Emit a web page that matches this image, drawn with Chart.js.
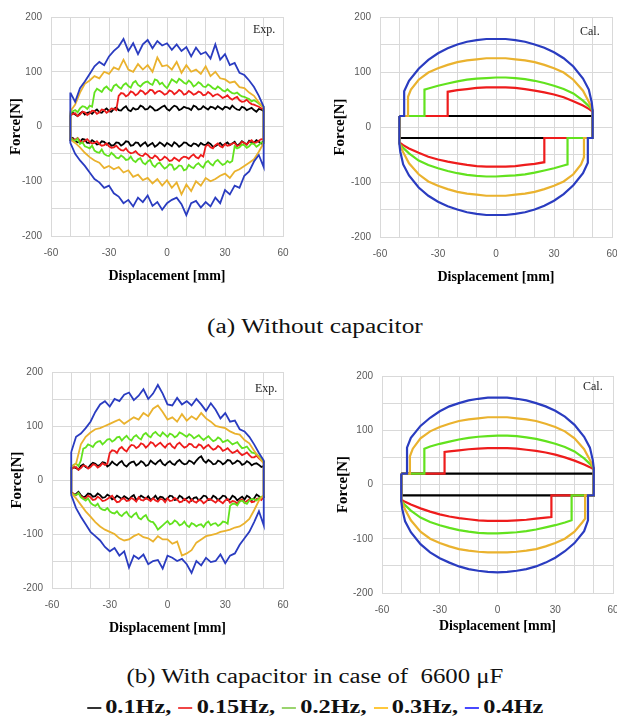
<!DOCTYPE html>
<html>
<head>
<meta charset="utf-8">
<script src="https://cdn.jsdelivr.net/npm/chart.js@4.4.1/dist/chart.umd.min.js"></script>
<style>
  body { margin: 0; width: 617px; height: 718px; overflow: hidden; background: #fff; position: relative; }
  .box { position: absolute; }
  .tag { position: absolute; font-family: "Liberation Serif", serif; font-size: 12px; line-height: 12px; color: #222; }
  .cap { position: absolute; left: 0; width: 630px; text-align: center; font-family: "Liberation Serif", serif; color: #111; white-space: nowrap; }
  .cap span.in { display: inline-block; }
  .mk { display: inline-block; width: 11px; height: 2px; vertical-align: middle; margin: 0 3px 0 1px; position: relative; top: -1px; }
</style>
</head>
<body>
<div class="box" style="left:0;top:0"><canvas id="expA" width="300" height="290"></canvas></div>
<div class="box" style="left:300px;top:0"><canvas id="calA" width="317" height="290"></canvas></div>
<div class="box" style="left:0;top:355px"><canvas id="expB" width="300" height="290"></canvas></div>
<div class="box" style="left:300px;top:355px"><canvas id="calB" width="317" height="290"></canvas></div>

<div class="tag" style="left:253px;top:23px">Exp.</div>
<div class="tag" style="left:580px;top:25px">Cal.</div>
<div class="tag" style="left:255px;top:382px">Exp.</div>
<div class="tag" style="left:583px;top:380px">Cal.</div>

<div class="cap" style="top:316px;font-size:20px;line-height:20px"><span class="in" style="transform:scaleX(1.27)">(a) Without capacitor</span></div>
<div class="cap" style="top:666px;font-size:20px;line-height:20px"><span class="in" style="transform:scaleX(1.24)">(b) With capacitor in case of &nbsp;6600 μF</span></div>
<div class="cap" style="top:697px;font-size:19px;line-height:19px;font-weight:bold"><span class="in" style="transform:scaleX(1.28)"><span class="mk" style="background:#333"></span>0.1Hz, <span class="mk" style="background:#f04646"></span>0.15Hz, <span class="mk" style="background:#9ad46e"></span>0.2Hz, <span class="mk" style="background:#ffc83c"></span>0.3Hz, <span class="mk" style="background:#4848ff"></span>0.4Hz</span></div>

<script>
// displacement grid for the measured loops [mm]
const dispGrid = [-50, -47.5, -45, -42.5, -40, -37.5, -35, -32.5, -30, -27.5, -25, -22.5, -20, -17.5, -15, -12.5, -10, -7.5, -5, -2.5, 0,
  2.5, 5, 7.5, 10, 12.5, 15, 17.5, 20, 22.5, 25, 27.5, 30, 32.5, 35, 37.5, 40, 42.5, 45, 47.5, 50];
// in-between positions used by the finer-sampled (low force) loops
const dispMid = [-48.75, -46.25, -43.75, -41.25, -38.75, -36.25, -33.75, -31.25, -28.75, -26.25, -23.75, -21.25, -18.75, -16.25,
  -13.75, -11.25, -8.75, -6.25, -3.75, -1.25, 1.25, 3.75, 6.25, 8.75, 11.25, 13.75, 16.25, 18.75, 21.25, 23.75, 26.25, 28.75,
  31.25, 33.75, 36.25, 38.75, 41.25, 43.75, 46.25, 48.75];

const freqLabels = ['0.4Hz', '0.3Hz', '0.2Hz', '0.15Hz', '0.1Hz'];
const colors = ['#2a3cc0', '#eab22e', '#62e21e', '#ee1c1c', '#000000'];

// (a) without capacitor - measured force [N], upper branch (going right) and lower branch (going left)
const expA_04_up = [62, 45, 70, 82, 96, 110, 118, 112, 128, 138, 146, 160, 138, 152, 132, 150, 158, 143, 156, 148, 152, 140, 150, 138, 145, 128, 144, 132, 136, 124, 150, 122, 132, 112, 116, 98, 94, 84, 72, 56, 36];
const expA_04_dn = [-30, -50, -62, -72, -84, -96, -102, -112, -108, -122, -128, -140, -134, -146, -130, -138, -126, -145, -138, -152, -140, -134, -130, -142, -162, -140, -136, -148, -138, -146, -130, -140, -116, -124, -108, -112, -90, -82, -64, -52, -74];
const expA_03_up = [28, 40, 62, 78, 84, 92, 88, 100, 96, 108, 104, 122, 104, 100, 114, 104, 112, 100, 126, 110, 112, 104, 118, 98, 112, 100, 104, 96, 110, 92, 100, 88, 86, 80, 82, 72, 70, 62, 56, 44, 34];
const expA_03_dn = [-24, -30, -38, -48, -56, -62, -66, -76, -72, -78, -74, -84, -80, -92, -88, -98, -94, -104, -96, -108, -98, -112, -102, -124, -106, -118, -100, -108, -94, -100, -96, -90, -86, -94, -82, -78, -72, -66, -60, -46, -30];
const expA_02_up = [24, 30, 33, 36, 38, 62, 66, 70, 68, 74, 72, 76, 74, 80, 76, 78, 82, 76, 84, 80, 70, 86, 80, 84, 78, 80, 76, 78, 72, 74, 68, 70, 64, 64, 60, 58, 54, 50, 48, 42, 36];
const expA_02_upMid = [28, 26, 37, 32, 36, 69, 63, 73, 65, 77, 69, 79, 71, 83, 73, 81, 78, 86, 77, 74, 78, 83, 87, 80, 84, 73, 81, 73, 77, 70, 73, 66, 68, 61, 62, 55, 52, 46, 45, 38];
const expA_02_dn = [-20, -26, -32, -36, -40, -44, -48, -50, -54, -52, -58, -56, -60, -62, -60, -66, -64, -70, -68, -72, -74, -70, -76, -72, -78, -74, -70, -72, -66, -68, -64, -66, -68, -66, -36, -38, -34, -36, -32, -34, -30];
const expA_02_dnMid = [-25, -22, -29, -38, -35, -47, -42, -53, -48, -57, -53, -61, -55, -65, -58, -69, -61, -74, -66, -77, -69, -79, -71, -80, -70, -76, -67, -75, -63, -71, -61, -70, -63, -63, -40, -33, -39, -31, -37, -29];
const expA_015_up = [20, 24, 22, 26, 24, 28, 26, 30, 28, 32, 56, 60, 58, 62, 60, 64, 62, 66, 64, 62, 60, 64, 62, 64, 60, 62, 60, 62, 58, 60, 58, 56, 54, 52, 52, 48, 46, 44, 40, 36, 32];
const expA_015_upMid = [23, 19, 27, 21, 29, 23, 31, 25, 33, 30, 61, 55, 64, 57, 66, 59, 67, 60, 65, 58, 66, 59, 67, 58, 65, 58, 64, 57, 63, 55, 59, 52, 57, 49, 54, 45, 49, 41, 38, 33];
const expA_015_dn = [-20, -24, -26, -26, -28, -30, -32, -34, -36, -38, -40, -44, -46, -48, -50, -54, -52, -58, -56, -60, -58, -62, -60, -58, -56, -54, -56, -52, -36, -38, -34, -36, -32, -34, -30, -34, -30, -28, -30, -26, -24];
const expA_015_dnMid = [-23, -21, -29, -23, -31, -27, -35, -31, -39, -35, -43, -40, -49, -45, -53, -49, -57, -53, -62, -55, -63, -57, -63, -55, -59, -51, -58, -55, -33, -40, -31, -38, -35, -31, -36, -28, -33, -25, -29, -23];
const expA_01_up = [20, 22, 24, 22, 26, 28, 26, 30, 28, 32, 30, 34, 30, 34, 32, 36, 32, 34, 30, 36, 32, 34, 36, 32, 34, 30, 36, 32, 34, 36, 32, 34, 36, 32, 34, 30, 34, 32, 30, 32, 28];
const expA_01_upMid = [25, 19, 27, 25, 23, 31, 25, 33, 27, 35, 29, 37, 28, 31, 38, 31, 37, 29, 33, 38, 29, 38, 30, 36, 33, 38, 31, 37, 31, 35, 37, 31, 35, 38, 31, 36, 30, 34, 27, 31];
const expA_01_dn = [-24, -26, -28, -24, -30, -28, -32, -28, -30, -34, -30, -32, -28, -34, -30, -32, -36, -30, -34, -32, -30, -36, -32, -34, -30, -36, -32, -30, -34, -32, -36, -30, -32, -34, -28, -32, -30, -26, -30, -28, -26];
const expA_01_dnMid = [-21, -29, -23, -30, -25, -33, -27, -33, -35, -29, -35, -27, -35, -29, -36, -29, -33, -37, -29, -36, -33, -29, -37, -29, -34, -31, -36, -33, -29, -37, -33, -35, -29, -31, -35, -27, -33, -29, -25, -31];

// (b) with 6600 uF capacitor - measured force [N]
const expB_04_up = [52, 80, 86, 96, 108, 126, 140, 146, 136, 150, 146, 158, 162, 148, 156, 168, 150, 160, 176, 160, 140, 138, 152, 140, 146, 138, 150, 140, 128, 142, 130, 114, 124, 108, 110, 94, 90, 80, 66, 50, 36];
const expB_04_dn = [-28, -52, -68, -82, -96, -104, -112, -124, -132, -126, -140, -132, -162, -140, -146, -138, -156, -150, -148, -164, -140, -144, -150, -146, -156, -172, -150, -158, -144, -152, -150, -138, -154, -140, -136, -120, -108, -96, -78, -58, -84];
const expB_03_up = [24, 30, 66, 80, 88, 94, 96, 100, 104, 108, 112, 104, 110, 116, 112, 124, 118, 132, 138, 126, 112, 116, 108, 122, 110, 118, 112, 124, 114, 108, 100, 98, 96, 90, 86, 84, 74, 68, 54, 42, 30];
const expB_03_dn = [-24, -34, -46, -58, -68, -78, -86, -92, -96, -100, -108, -112, -110, -104, -100, -106, -108, -114, -104, -110, -110, -118, -114, -140, -136, -130, -116, -110, -104, -102, -100, -96, -94, -92, -88, -86, -80, -72, -56, -38, -28];
const expB_02_up = [24, 30, 36, 60, 64, 68, 72, 70, 76, 74, 80, 78, 76, 80, 78, 84, 82, 86, 84, 88, 80, 84, 82, 86, 80, 82, 80, 78, 78, 76, 74, 76, 72, 70, 68, 64, 60, 56, 50, 44, 34];
const expB_02_upMid = [28, 26, 58, 66, 61, 71, 66, 75, 71, 79, 73, 82, 73, 83, 75, 87, 79, 89, 81, 84, 86, 79, 88, 83, 85, 77, 83, 74, 81, 72, 79, 70, 74, 66, 70, 59, 62, 51, 47, 38];
const expB_02_dn = [-24, -28, -32, -38, -42, -48, -52, -56, -58, -62, -64, -62, -66, -64, -70, -68, -74, -78, -92, -84, -76, -80, -78, -82, -84, -80, -86, -82, -80, -84, -80, -82, -78, -48, -44, -40, -42, -38, -36, -34, -30];
const expB_02_dnMid = [-27, -24, -35, -34, -46, -44, -55, -52, -61, -58, -67, -59, -69, -61, -73, -65, -77, -84, -88, -80, -82, -75, -84, -77, -87, -82, -83, -87, -77, -81, -85, -77, -81, -44, -47, -38, -44, -35, -38, -31];
const expB_015_up = [20, 24, 22, 26, 24, 28, 26, 28, 50, 54, 58, 56, 60, 64, 62, 66, 64, 68, 66, 64, 66, 62, 66, 64, 62, 66, 60, 64, 62, 60, 58, 60, 56, 54, 52, 50, 48, 46, 42, 40, 34];
const expB_015_upMid = [23, 19, 27, 21, 29, 23, 31, 30, 55, 50, 61, 53, 65, 59, 68, 60, 70, 62, 69, 60, 68, 59, 69, 60, 67, 61, 66, 58, 65, 56, 63, 54, 59, 50, 55, 46, 51, 42, 45, 36];
const expB_015_dn = [-22, -28, -30, -34, -32, -36, -34, -38, -32, -36, -40, -34, -38, -36, -32, -38, -36, -34, -40, -36, -34, -38, -36, -40, -38, -36, -42, -38, -40, -36, -42, -40, -38, -42, -40, -38, -42, -36, -40, -34, -30];
const expB_015_dnMid = [-26, -24, -33, -29, -37, -31, -39, -35, -29, -41, -35, -39, -33, -40, -37, -33, -39, -38, -35, -41, -39, -33, -41, -35, -42, -40, -37, -43, -35, -39, -37, -43, -35, -39, -44, -36, -39, -41, -35, -37];
const expB_01_up = [20, 22, 26, 24, 28, 30, 28, 32, 28, 30, 32, 28, 30, 34, 30, 32, 28, 32, 34, 30, 32, 30, 34, 32, 30, 34, 36, 44, 32, 34, 30, 34, 32, 36, 32, 34, 30, 32, 30, 28, 26];
const expB_01_upMid = [24, 19, 29, 22, 32, 26, 33, 25, 34, 27, 35, 25, 33, 27, 35, 26, 36, 29, 37, 27, 35, 28, 37, 29, 36, 30, 41, 36, 37, 29, 36, 29, 37, 30, 36, 28, 35, 27, 31, 24];
const expB_01_dn = [-22, -26, -28, -30, -26, -30, -28, -32, -30, -34, -32, -30, -36, -28, -34, -32, -30, -34, -36, -32, -34, -30, -36, -32, -34, -38, -32, -34, -30, -36, -32, -34, -30, -36, -32, -34, -36, -32, -34, -30, -32];
const expB_01_dnMid = [-27, -22, -32, -25, -31, -25, -33, -27, -36, -29, -35, -33, -31, -37, -29, -35, -37, -29, -31, -37, -29, -37, -29, -37, -31, -33, -38, -29, -37, -29, -37, -29, -37, -29, -38, -31, -29, -37, -27, -35];

// calculated loops (a): displacement [mm] and force [N] along the loop
const calA_04_x = [-50, -47.5, -47.5, -45, -40, -35, -30, -25, -20, -15, -10, -5, 0, 5, 10, 15, 20, 25, 30, 35, 40, 45, 48, 49.5, 50, 50, 47.5, 47.5, 45, 40, 35, 30, 25, 20, 15, 10, 5, 0, -5, -10, -15, -20, -25, -30, -35, -40, -45, -48, -49.5, -50, -50];
const calA_04_y = [20, 20, 65, 84, 106, 122, 134, 143, 150, 155, 158, 160, 160, 160, 158, 155, 150, 144, 136, 125, 110, 88, 68, 45, 30, -20, -20, -65, -84, -106, -122, -134, -143, -150, -155, -158, -160, -160, -160, -158, -155, -150, -144, -136, -125, -110, -88, -68, -45, -30, 20];
const calA_03_x = [-50, -45.5, -45.5, -44, -40, -35, -30, -25, -20, -15, -10, -5, 0, 5, 10, 15, 20, 25, 30, 35, 40, 45, 48, 50, 50, 45.5, 45.5, 44, 40, 35, 30, 25, 20, 15, 10, 5, 0, -5, -10, -15, -20, -25, -30, -35, -40, -45, -48, -50, -50];
const calA_03_y = [20, 20, 55, 68, 86, 99, 107, 113, 118, 121, 123, 125, 125, 125, 123, 121, 118, 113, 107, 99, 86, 66, 46, 30, -20, -20, -55, -68, -86, -99, -107, -113, -118, -121, -123, -125, -125, -125, -123, -121, -118, -113, -107, -99, -86, -66, -46, -30, 20];
const calA_02_x = [-50, -37, -37, -35, -30, -25, -20, -15, -10, -5, 0, 5, 10, 15, 20, 25, 30, 35, 40, 45, 48, 50, 50, 37, 37, 35, 30, 25, 20, 15, 10, 5, 0, -5, -10, -15, -20, -25, -30, -35, -40, -45, -48, -50, -50];
const calA_02_y = [20, 20, 68, 70, 75, 79, 83, 86, 88, 89, 90, 90, 89, 87, 84, 80, 75, 69, 61, 48, 38, 30, -20, -20, -68, -70, -75, -79, -83, -86, -88, -89, -90, -90, -89, -87, -84, -80, -75, -69, -61, -48, -38, -30, 20];
const calA_015_x = [-50, -25, -25, -20, -15, -10, -5, 0, 5, 10, 15, 20, 25, 30, 35, 40, 45, 48, 50, 50, 25, 25, 20, 15, 10, 5, 0, -5, -10, -15, -20, -25, -30, -35, -40, -45, -48, -50, -50];
const calA_015_y = [20, 20, 64, 67, 69, 71, 72, 72, 72, 71, 69, 66, 63, 59, 54, 47, 39, 33, 28, -20, -20, -64, -67, -69, -71, -72, -72, -72, -71, -69, -66, -63, -59, -54, -47, -39, -33, -28, 20];
const calA_01_x = [-50, 50, 50, -50, -50];
const calA_01_y = [20, 20, -20, -20, 20];

// calculated loops (b)
const calB_04_x = [-50, -47, -47, -45, -40, -35, -30, -25, -20, -15, -10, -5, 0, 5, 10, 15, 20, 25, 30, 35, 40, 45, 48, 49.5, 50, 50, 47, 47, 45, 40, 35, 30, 25, 20, 15, 10, 5, 0, -5, -10, -15, -20, -25, -30, -35, -40, -45, -48, -49.5, -50, -50];
const calB_04_y = [20, 20, 68, 86, 108, 123, 135, 144, 150, 155, 158, 160, 160, 160, 158, 155, 150, 144, 136, 125, 110, 88, 68, 45, 30, -20, -20, -66, -86, -108, -123, -135, -144, -151, -156, -159, -161, -162, -161, -159, -156, -151, -144, -136, -125, -110, -88, -68, -45, -30, 20];
const calB_03_x = [-50, -45.5, -45.5, -44, -40, -35, -30, -25, -20, -15, -10, -5, 0, 5, 10, 15, 20, 25, 30, 35, 40, 45, 48, 50, 50, 45.5, 45.5, 44, 40, 35, 30, 25, 20, 15, 10, 5, 0, -5, -10, -15, -20, -25, -30, -35, -40, -45, -48, -50, -50];
const calB_03_y = [20, 20, 52, 66, 85, 98, 106, 112, 117, 120, 122, 124, 124, 124, 122, 120, 117, 112, 106, 98, 85, 65, 45, 30, -20, -20, -63, -70, -87, -100, -108, -114, -119, -122, -124, -125, -125, -125, -124, -122, -119, -114, -108, -100, -87, -66, -46, -30, 20];
const calB_02_x = [-50, -38, -38, -35, -30, -25, -20, -15, -10, -5, 0, 5, 10, 15, 20, 25, 30, 35, 40, 45, 48, 50, 50, 38.5, 38.5, 35, 30, 25, 20, 15, 10, 5, 0, -5, -10, -15, -20, -25, -30, -35, -40, -45, -48, -50, -50];
const calB_02_y = [20, 20, 66, 70, 75, 79, 83, 86, 88, 89, 90, 90, 89, 87, 84, 80, 75, 69, 61, 48, 38, 30, -20, -20, -66, -70, -75, -79, -83, -86, -88, -89, -90, -90, -89, -87, -84, -80, -75, -69, -61, -48, -38, -30, 20];
const calB_015_x = [-50, -27.5, -27.5, -25, -20, -15, -10, -5, 0, 5, 10, 15, 20, 25, 30, 35, 40, 45, 48, 50, 50, 28, 28, 25, 20, 15, 10, 5, 0, -5, -10, -15, -20, -25, -30, -35, -40, -45, -48, -50, -50];
const calB_015_y = [20, 20, 60, 61, 63, 65, 66, 67, 67, 67, 66, 64, 62, 59, 55, 50, 44, 37, 32, 28, -20, -20, -60, -61, -63, -65, -66, -67, -67, -67, -66, -64, -62, -59, -55, -50, -44, -37, -32, -28, 20];
const calB_01_x = [-50, 50, 50, -50, -50];
const calB_01_y = [20, 20, -20, -20, 20];

const xTicks = [-60, -30, 0, 30, 60];
const yTicks = [-200, -100, 0, 100, 200];

// upper branch left->right, then lower branch back right->left
function loopPoints(up, dn, upMid, dnMid) {
  const pts = [];
  for (let i = 0; i < up.length; i++) {
    pts.push({ x: dispGrid[i], y: up[i] });
    if (upMid && i < upMid.length) pts.push({ x: dispMid[i], y: upMid[i] });
  }
  for (let i = dn.length - 1; i >= 0; i--) {
    pts.push({ x: dispGrid[i], y: dn[i] });
    if (dnMid && i > 0) pts.push({ x: dispMid[i - 1], y: dnMid[i - 1] });
  }
  pts.push(pts[0]);
  return pts;
}

function pathPoints(xs, ys) {
  return xs.map((x, i) => ({ x: x, y: ys[i] }));
}

function makeChart(id, datasets, lay) {
  const tickFont = { family: 'Liberation Sans', size: 10 };
  return new Chart(document.getElementById(id), {
    type: 'scatter',
    data: { datasets: datasets },
    options: {
      responsive: false,
      animation: false,
      layout: { padding: { left: 0, top: lay.top, right: lay.right, bottom: 0 } },
      plugins: { legend: { display: false }, tooltip: { enabled: false } },
      elements: { point: { radius: 0 }, line: { tension: 0 } },
      scales: {
        x: {
          min: -60, max: 60,
          grid: { color: '#d9d9d9', drawTicks: false },
          border: { color: '#d9d9d9' },
          ticks: {
            stepSize: 10, autoSkip: false, maxRotation: 0, padding: 11,
            color: '#595959', font: tickFont,
            callback: v => xTicks.includes(Math.round(v)) ? Math.round(v) : ''
          },
          title: {
            display: true, text: 'Displacement [mm]', color: '#000',
            font: { family: 'Liberation Serif', size: 14, weight: 'bold' },
            padding: { top: 0, bottom: lay.xtPad }
          },
          afterFit: s => { s.height = lay.xh; s.paddingLeft = 0; s.paddingRight = 0; }
        },
        y: {
          min: -200, max: 200,
          grid: { color: '#d9d9d9', drawTicks: false },
          border: { color: '#d9d9d9' },
          ticks: {
            stepSize: 50, autoSkip: false, padding: 9,
            color: '#595959', font: tickFont,
            callback: v => yTicks.includes(Math.round(v)) ? Math.round(v) : ''
          },
          title: {
            display: true, text: 'Force[N]', color: '#000',
            font: { family: 'Liberation Serif', size: 15, weight: 'bold' },
            padding: { top: lay.ytPad, bottom: 0 }
          },
          afterFit: s => { s.width = lay.yw; s.paddingTop = 0; s.paddingBottom = 0; }
        }
      }
    }
  });
}

function expSets(branches) {
  return branches.map((b, i) => ({
    label: freqLabels[i],
    data: loopPoints(b[0], b[1], b[2], b[3]),
    showLine: true,
    borderColor: colors[i],
    borderWidth: 1.8
  }));
}

function calSets(paths) {
  return paths.map((p, i) => ({
    label: freqLabels[i],
    data: pathPoints(p[0], p[1]),
    showLine: true,
    borderColor: colors[i],
    borderWidth: 2.2
  }));
}

makeChart('expA', expSets([
  [expA_04_up, expA_04_dn], [expA_03_up, expA_03_dn], [expA_02_up, expA_02_dn, expA_02_upMid, expA_02_dnMid],
  [expA_015_up, expA_015_dn, expA_015_upMid, expA_015_dnMid], [expA_01_up, expA_01_dn, expA_01_upMid, expA_01_dnMid]
]), { top: 17, right: 17, yw: 51, xh: 54, xtPad: 5.6, ytPad: 7 });

makeChart('calA', calSets([
  [calA_04_x, calA_04_y], [calA_03_x, calA_03_y], [calA_02_x, calA_02_y],
  [calA_015_x, calA_015_y], [calA_01_x, calA_01_y]
]), { top: 17, right: 5, yw: 80, xh: 53, xtPad: 4.6, ytPad: 31 });

makeChart('expB', expSets([
  [expB_04_up, expB_04_dn], [expB_03_up, expB_03_dn], [expB_02_up, expB_02_dn, expB_02_upMid, expB_02_dnMid],
  [expB_015_up, expB_015_dn, expB_015_upMid, expB_015_dnMid], [expB_01_up, expB_01_dn, expB_01_upMid, expB_01_dnMid]
]), { top: 17, right: 17, yw: 52, xh: 57, xtPad: 8.6, ytPad: 8 });

makeChart('calB', calSets([
  [calB_04_x, calB_04_y], [calB_03_x, calB_03_y], [calB_02_x, calB_02_y],
  [calB_015_x, calB_015_y], [calB_01_x, calB_01_y]
]), { top: 21, right: 4, yw: 82, xh: 52, xtPad: 10.6, ytPad: 34 });
</script>
</body>
</html>
